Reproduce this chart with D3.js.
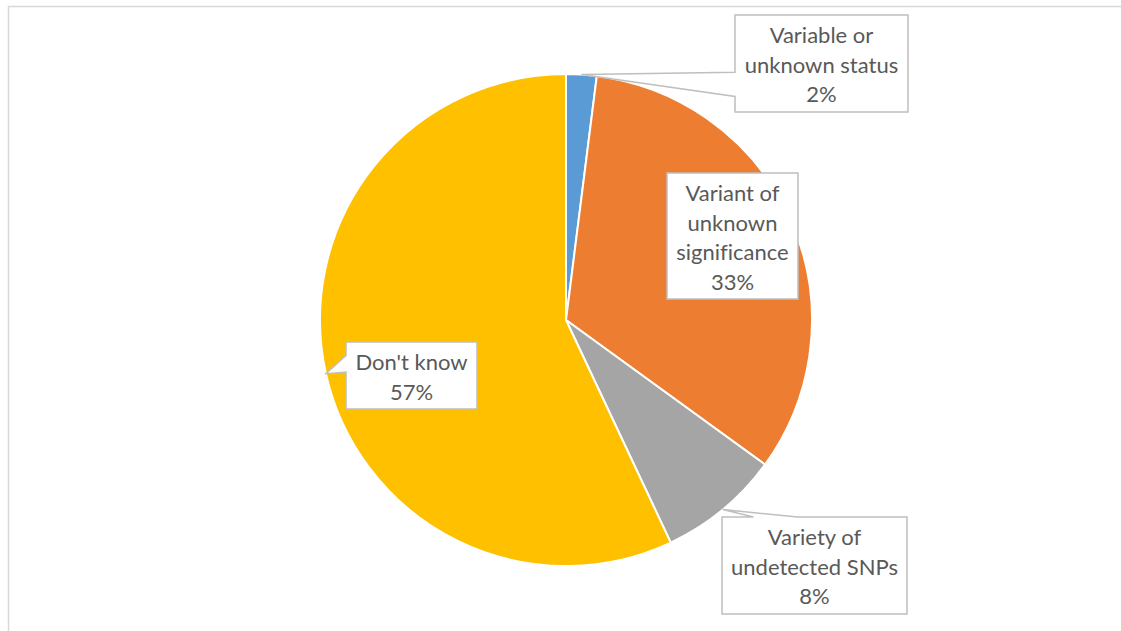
<!DOCTYPE html>
<html>
<head>
<meta charset="utf-8">
<script src="https://cdn.jsdelivr.net/npm/d3@7"></script>
<style>
  html, body { margin: 0; padding: 0; background: #fff; }
  svg { display: block; }
  text { font-variant-ligatures: none; }
</style>
</head>
<body>
<svg id="chart" width="1121" height="631"></svg>
<script>
// Survey answers, clockwise from 12 o'clock
const categories = [
  "Variable or unknown status",
  "Variant of unknown significance",
  "Variety of undetected SNPs",
  "Don't know"
];
const values = [2, 33, 8, 57];
const labelLines = [
  ["Variable or", "unknown status"],
  ["Variant of", "unknown", "significance"],
  ["Variety of", "undetected SNPs"],
  ["Don't know"]
];
const colors = ["#5B9BD5", "#ED7D31", "#A5A5A5", "#FFC000"];

// Callout box layout: top-left corner, size, and where the pointer attaches
const boxes = [
  { x: 735, y: 15,  w: 173, h: 97,  side: "left", b0: 0.59, b1: 0.84 },
  { x: 667, y: 173, w: 131, h: 126, side: null },
  { x: 722, y: 517, w: 185, h: 97,  side: "top",  b0: 0.17, b1: 0.41 },
  { x: 346, y: 342, w: 131, h: 67,  side: "left", b0: 0.20, b1: 0.45 }
];

const svg = d3.select("#chart");
const W = 1121, H = 631;

// chart area frame
svg.append("path")
  .attr("d", `M8.5,${H + 2}V6.5H${W + 2}`)
  .attr("fill", "none")
  .attr("stroke", "#d9d9d9")
  .attr("stroke-width", 1.5);

const cx = 566, cy = 320, r = 246;
const total = d3.sum(values);
const pie = d3.pie().sort(null).value(d => d)(values);
const arc = d3.arc().innerRadius(0).outerRadius(r);

const g = svg.append("g").attr("transform", `translate(${cx},${cy})`);
g.selectAll("path.slice")
  .data(pie)
  .join("path")
  .attr("class", "slice")
  .attr("d", arc)
  .attr("fill", (d, i) => colors[i])
  .attr("stroke", "#fff")
  .attr("stroke-width", 2)
  .attr("stroke-linejoin", "round");

const fmt = v => Math.round(v / total * 100) + "%";
const lineH = 29.5;

pie.forEach((d, i) => {
  const b = boxes[i];
  const mid = (d.startAngle + d.endAngle) / 2;
  const tipX = cx + r * Math.sin(mid);
  const tipY = cy - r * Math.cos(mid);

  // callout outline (box + pointer) as a single path
  let p;
  const x0 = b.x, y0 = b.y, x1 = b.x + b.w, y1 = b.y + b.h;
  if (b.side === "left") {
    const a = y0 + b.h * b.b0, c = y0 + b.h * b.b1;
    p = `M${x0},${y0}H${x1}V${y1}H${x0}V${c}L${tipX},${tipY}L${x0},${a}Z`;
  } else if (b.side === "top") {
    const a = x0 + b.w * b.b0, c = x0 + b.w * b.b1;
    p = `M${x0},${y0}H${a}L${tipX},${tipY}L${c},${y0}H${x1}V${y1}H${x0}Z`;
  } else {
    p = `M${x0},${y0}H${x1}V${y1}H${x0}Z`;
  }
  svg.append("path")
    .attr("d", p)
    .attr("fill", "#fff")
    .attr("stroke", "#bfbfbf")
    .attr("stroke-width", 1.5)
    .attr("stroke-linejoin", "miter");

  const lines = labelLines[i].concat([fmt(values[i])]);
  const midY = b.y + b.h / 2 + 1.5;
  const t = svg.append("text")
    .attr("text-anchor", "middle")
    .attr("font-family", "Lato, 'Open Sans', sans-serif")
    .attr("font-size", 22)
    .attr("fill", "#595959");
  lines.forEach((ln, k) => {
    t.append("tspan")
      .attr("x", b.x + b.w / 2)
      .attr("y", midY + (k - (lines.length - 1) / 2) * lineH)
      .attr("dy", "0.36em")
      .text(ln);
  });
});
</script>
</body>
</html>
